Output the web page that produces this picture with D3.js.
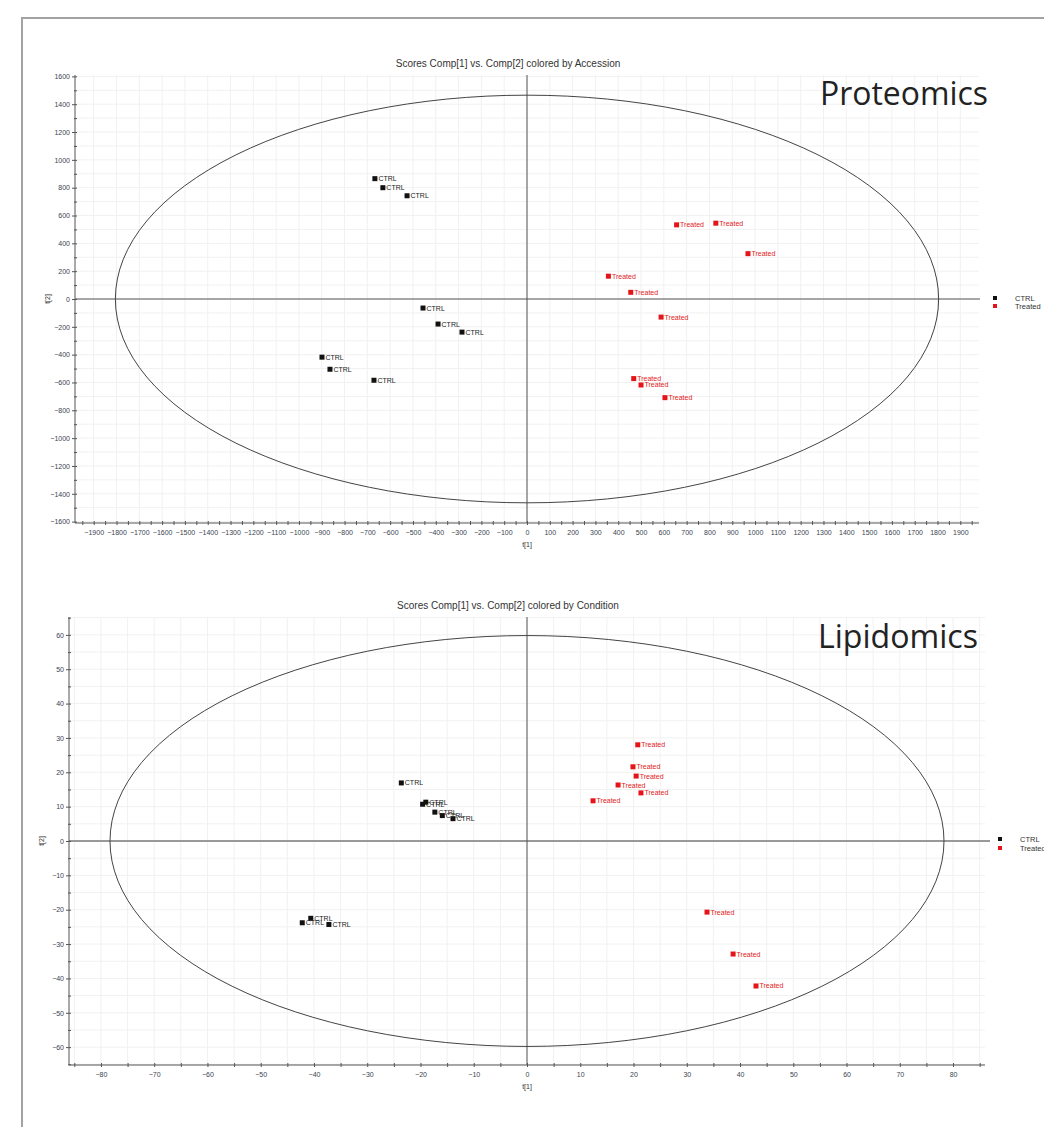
<!DOCTYPE html>
<html><head><meta charset="utf-8">
<script src="https://cdn.jsdelivr.net/npm/d3@7"></script>
<style>
body{margin:0;background:#fff;}
svg{display:block;font-family:"Liberation Sans",Arial,sans-serif;}
</style></head>
<body>
<svg id="c" width="1044" height="1127"></svg>
<script>
// ---------- DATA ----------
const groups = ["CTRL", "Treated"];
const colors = ["#111111", "#e5141b"];

// Proteomics scores
const protCtrlT1 = [-667, -632, -526, -456, -390, -285, -899, -864, -671];
const protCtrlT2 = [865, 800, 742, -65, -180, -238, -418, -505, -584];
const protTrtT1 = [656, 828, 969, 357, 455, 588, 468, 500, 605];
const protTrtT2 = [533, 545, 326, 164, 48, -130, -572, -618, -709];
const protXTicks = d3.range(-1900, 1901, 100);
const protYTicks = d3.range(-1600, 1601, 200);
const protEllipse = [1805, 1465];

// Lipidomics scores
const lipCtrlT1 = [-23.6, -19.0, -19.6, -17.3, -15.9, -13.9, -40.6, -42.2, -37.2];
const lipCtrlT2 = [16.9, 11.3, 10.7, 8.4, 7.4, 6.5, -22.5, -23.8, -24.3];
const lipTrtT1 = [20.8, 19.9, 20.5, 17.1, 21.4, 12.4, 33.8, 38.7, 43.0];
const lipTrtT2 = [28.0, 21.6, 18.9, 16.3, 14.0, 11.7, -20.7, -32.9, -42.2];
const lipXTicks = d3.range(-80, 81, 10);
const lipYTicks = d3.range(-60, 61, 10);
const lipEllipse = [78.3, 59.8];

const titles = ["Scores Comp[1] vs. Comp[2] colored by Accession", "Scores Comp[1] vs. Comp[2] colored by Condition"];
const bigLabels = ["Proteomics", "Lipidomics"];

// ---------- DRAW ----------
const svg = d3.select("#c");
// frame
svg.append("path").attr("d", "M22,1127V18H1044").attr("fill", "none").attr("stroke", "#a3a3a3").attr("stroke-width", 2);

function panel(cfg) {
  const g = svg.append("g");
  const x = d3.scaleLinear().domain(cfg.xDom).range(cfg.xRange);
  const y = d3.scaleLinear().domain(cfg.yDom).range(cfg.yRange);
  const [x0, x1] = cfg.xRange, [y0, y1] = cfg.yRange; // y0 bottom, y1 top

  // grid
  g.append("g").selectAll("line").data(cfg.xGrid).join("line")
    .attr("x1", d => x(d)).attr("x2", d => x(d)).attr("y1", y0).attr("y2", y1)
    .attr("stroke", "#f1f1f1").attr("stroke-width", 1);
  g.append("g").selectAll("line").data(cfg.yGrid).join("line")
    .attr("y1", d => y(d)).attr("y2", d => y(d)).attr("x1", x0).attr("x2", x1)
    .attr("stroke", "#f1f1f1").attr("stroke-width", 1);

  // zero lines
  g.append("line").attr("x1", x0).attr("x2", cfg.zeroLineEnd).attr("y1", y(0)).attr("y2", y(0))
    .attr("stroke", cfg.hZeroColor).attr("stroke-width", cfg.hZeroWidth);
  g.append("line").attr("x1", x(0)).attr("x2", x(0)).attr("y1", y0).attr("y2", y1)
    .attr("stroke", "#555").attr("stroke-width", 1);

  // ellipse
  g.append("ellipse").attr("cx", x(0)).attr("cy", y(0))
    .attr("rx", x(cfg.ell[0]) - x(0)).attr("ry", y(0) - y(cfg.ell[1]))
    .attr("fill", "none").attr("stroke", "#444").attr("stroke-width", 1);

  // x axis
  const xa = g.append("g").attr("transform", `translate(0,${y0})`)
    .call(d3.axisBottom(x).tickValues(cfg.xTicks).tickSize(3).tickPadding(4).tickFormat(d3.format("d")));
  xa.select(".domain").attr("d", `M${x0},0H${x1}`).attr("stroke", "#555");
  xa.selectAll(".tick line").attr("y1", -2).attr("y2", 2).attr("stroke", "#555");
  xa.selectAll("text").attr("fill", "#3a4450").style("font-size", "7px").style("font-family", "Liberation Sans, Arial");
  const xm = g.append("g").attr("transform", `translate(0,${y0})`)
    .call(d3.axisBottom(x).tickValues(cfg.xMinor).tickSize(2).tickFormat(""));
  xm.select(".domain").remove();
  xm.selectAll(".tick line").attr("y1", -2).attr("y2", 2).attr("stroke", "#555");

  // y axis
  const ya = g.append("g").attr("transform", `translate(${x0},0)`)
    .call(d3.axisLeft(y).tickValues(cfg.yTicks).tickSize(3).tickPadding(2).tickFormat(d3.format("d")));
  ya.select(".domain").attr("d", `M0,${y0}V${y1}`).attr("stroke", "#555");
  ya.selectAll(".tick line").attr("x1", -3).attr("x2", 2).attr("stroke", "#555");
  ya.selectAll("text").attr("fill", "#3a4450").style("font-size", "7px").style("font-family", "Liberation Sans, Arial");
  const ym = g.append("g").attr("transform", `translate(${x0},0)`)
    .call(d3.axisLeft(y).tickValues(cfg.yMinor).tickSize(2).tickFormat(""));
  ym.select(".domain").remove();
  ym.selectAll(".tick line").attr("x1", -1).attr("x2", 2).attr("stroke", "#555");

  // axis titles
  g.append("text").attr("x", x(0)).attr("y", y0 + 24).attr("text-anchor", "middle")
    .attr("fill", "#333").style("font-size", "7px").text("t[1]");
  g.append("text").attr("transform", `translate(${x0 - 25},${y(0)}) rotate(-90)`).attr("text-anchor", "middle")
    .attr("fill", "#333").style("font-size", "7px").text("t[2]");

  // title
  g.append("text").attr("x", 508).attr("y", y1 - 8).attr("text-anchor", "middle")
    .attr("fill", "#333").style("font-size", "10px").text(cfg.title);

  // big label
  g.append("text").attr("x", cfg.bigX).attr("y", cfg.bigY)
    .attr("fill", "#222").style("font-size", "32px").style("font-family", "Open Sans, Liberation Sans")
    .attr("textLength", cfg.bigW).attr("lengthAdjust", "spacingAndGlyphs").text(cfg.big);

  // points
  cfg.series.forEach((s, si) => {
    const pts = s.t1.map((v, i) => ({ x: v, y: s.t2[i] }));
    const pg = g.append("g");
    pg.selectAll("rect").data(pts).join("rect")
      .attr("x", d => x(d.x) - 2.5).attr("y", d => y(d.y) - 2.5).attr("width", 5).attr("height", 5)
      .attr("fill", colors[si]);
    pg.selectAll("text").data(pts).join("text")
      .attr("x", d => x(d.x) + 3.5).attr("y", d => y(d.y) + 2.5)
      .attr("fill", si === 0 ? "#222" : "#e31a1c").style("font-size", "7px").text(groups[si]);
  });

  // legend
  groups.forEach((gname, i) => {
    g.append("rect").attr("x", cfg.legX - 2).attr("y", cfg.legY + i * cfg.legStep - 2).attr("width", 4).attr("height", 4).attr("fill", colors[i]);
    g.append("text").attr("x", cfg.legX + 20).attr("y", cfg.legY + i * cfg.legStep + 2.5)
      .attr("fill", "#333").style("font-size", "7.5px").text(gname);
  });
}

panel({
  xDom: [-1982, 1982], xRange: [75, 979], yDom: [-1610, 1610], yRange: [523, 75],
  xGrid: d3.range(-1900, 1901, 100), yGrid: d3.range(-1600, 1601, 100),
  xTicks: protXTicks, xMinor: d3.range(-1950, 1951, 100),
  yTicks: protYTicks, yMinor: d3.range(-1500, 1501, 200),
  ell: protEllipse, zeroLineEnd: 980, hZeroColor: "#555", hZeroWidth: 1,
  title: titles[0], big: bigLabels[0], bigX: 820, bigY: 105, bigW: 168,
  series: [{ t1: protCtrlT1, t2: protCtrlT2 }, { t1: protTrtT1, t2: protTrtT2 }],
  legX: 995, legY: 298, legStep: 8
});

panel({
  xDom: [-86, 86], xRange: [69, 985], yDom: [-65.2, 65.2], yRange: [1065, 617],
  xGrid: d3.range(-85, 86, 5), yGrid: d3.range(-65, 66, 5),
  xTicks: lipXTicks, xMinor: d3.range(-85, 86, 10),
  yTicks: lipYTicks, yMinor: d3.range(-65, 66, 10),
  ell: lipEllipse, zeroLineEnd: 990, hZeroColor: "#999", hZeroWidth: 2,
  title: titles[1], big: bigLabels[1], bigX: 818, bigY: 648, bigW: 160,
  series: [{ t1: lipCtrlT1, t2: lipCtrlT2 }, { t1: lipTrtT1, t2: lipTrtT2 }],
  legX: 1000, legY: 839, legStep: 9
});
</script>
</body></html>
